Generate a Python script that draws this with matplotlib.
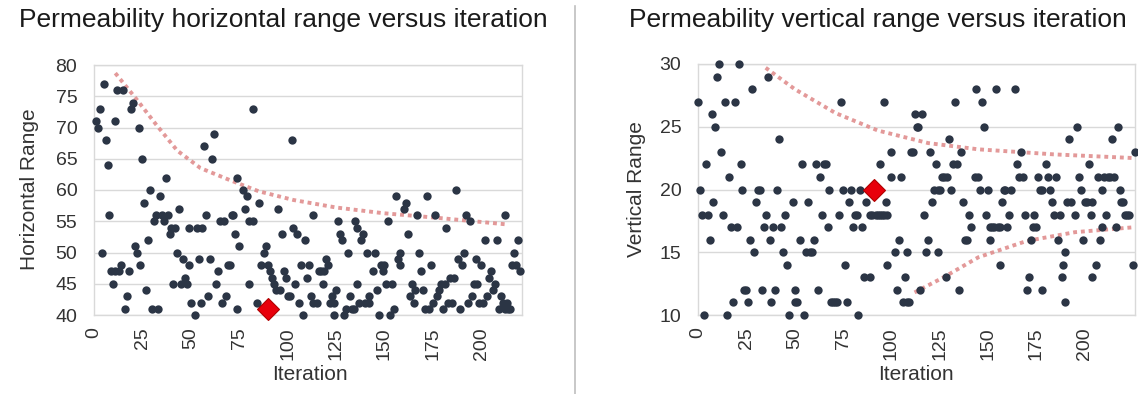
import matplotlib
matplotlib.use("Agg")
import matplotlib.pyplot as plt

plt.rcParams['font.family'] = ['Liberation Sans', 'DejaVu Sans']

# ---- left panel: horizontal range per iteration ----
h_iter = [1, 2, 3, 4, 5, 6, 7, 8, 9, 10,
          11, 11, 12, 13, 14, 15, 16, 17, 18, 19,
          20, 21, 22, 23, 24, 25, 26, 27, 28, 29,
          30, 31, 32, 33, 34, 35, 36, 37, 38, 39,
          40, 41, 42, 43, 44, 45, 46, 47, 48, 49,
          49, 50, 52, 53, 54, 55, 56, 57, 58, 59,
          60, 61, 62, 63, 64, 65, 66, 67, 68, 69,
          70, 71, 72, 73, 74, 74, 75, 77, 78, 79,
          80, 80, 82, 82, 84, 85, 86, 88, 89, 90,
          91, 92, 93, 94, 95, 96, 97, 98, 99, 100,
          101, 102, 103, 104, 105, 106, 107, 108, 109, 110,
          111, 112, 113, 113, 115, 116, 117, 118, 119, 120,
          121, 122, 123, 124, 124, 125, 126, 127, 128, 129,
          130, 131, 132, 133, 134, 135, 136, 136, 137, 138,
          139, 140, 141, 142, 142, 144, 145, 146, 147, 148,
          149, 150, 151, 152, 153, 154, 155, 156, 157, 158,
          158, 160, 161, 162, 163, 164, 165, 166, 167, 168,
          169, 170, 171, 172, 173, 174, 175, 176, 177, 178,
          179, 180, 181, 182, 183, 184, 185, 186, 187, 188,
          189, 190, 191, 192, 193, 194, 195, 196, 197, 198,
          199, 200, 201, 202, 203, 204, 205, 206, 207, 208,
          209, 210, 211, 212, 212, 213, 214, 215, 216, 217,
          218, 219, 220]
h_range = [71, 70, 73, 50, 77, 68, 64, 56, 47, 45,
           71, 47, 76, 47, 48, 76, 41, 43, 47, 73,
           74, 51, 50, 70, 48, 65, 58, 44, 52, 60,
           41, 55, 56, 41, 59, 56, 55, 62, 56, 53,
           54, 45, 54, 50, 57, 45, 49, 46, 45, 48,
           54, 42, 40, 54, 49, 42, 54, 67, 56, 43,
           49, 65, 69, 45, 47, 55, 42, 55, 43, 48,
           48, 56, 56, 53, 41, 62, 51, 60, 57, 59,
           45, 55, 73, 55, 42, 58, 48, 50, 51, 48,
           47, 46, 45, 44, 57, 44, 53, 47, 46, 43,
           43, 68, 54, 45, 53, 42, 48, 40, 52, 46,
           48, 43, 56, 42, 42, 47, 47, 45, 47, 49,
           48, 42, 43, 42, 40, 44, 55, 53, 52, 40,
           41, 50, 43, 41, 41, 55, 45, 54, 42, 52,
           53, 42, 50, 43, 42, 47, 50, 44, 40, 48,
           47, 48, 45, 55, 40, 45, 41, 59, 49, 50,
           48, 57, 58, 53, 43, 45, 42, 44, 56, 50,
           47, 44, 41, 59, 41, 48, 42, 56, 43, 44,
           45, 41, 45, 54, 42, 46, 42, 46, 60, 49,
           41, 48, 50, 56, 42, 55, 43, 45, 49, 45,
           42, 48, 42, 52, 43, 46, 47, 44, 45, 52,
           41, 43, 42, 41, 56, 42, 41, 41, 48, 50,
           48, 52, 47]
h_best = (90, 41)
# upper envelope trend
h_trend_x = [11, 22, 32, 43, 55, 70, 85, 103, 125, 149, 179, 213]
h_trend_y = [78.7, 74.5, 70.5, 66.3, 63.5, 61.6, 59.8, 58.4, 57.2, 56.3, 55.5, 54.5]

# ---- right panel: vertical range per iteration ----
v_iter = [0, 1, 2, 3, 4, 5, 6, 7, 8, 9,
          10, 11, 12, 13, 14, 15, 16, 17, 18, 19,
          20, 21, 22, 23, 24, 25, 26, 27, 28, 29,
          30, 31, 32, 33, 34, 35, 36, 37, 38, 39,
          40, 41, 42, 43, 44, 45, 46, 47, 49, 50,
          50, 51, 53, 54, 55, 56, 57, 58, 59, 60,
          61, 62, 63, 64, 65, 66, 67, 68, 69, 70,
          71, 72, 73, 74, 75, 76, 77, 78, 79, 80,
          81, 82, 83, 84, 85, 86, 87, 89, 89, 90,
          92, 93, 94, 94, 95, 96, 96, 97, 98, 98,
          100, 100, 102, 103, 104, 105, 106, 107, 108, 108,
          109, 110, 111, 112, 113, 114, 115, 116, 117, 118,
          119, 120, 121, 122, 123, 124, 124, 125, 126, 127,
          128, 129, 130, 131, 132, 133, 134, 135, 136, 137,
          138, 139, 140, 141, 143, 144, 145, 146, 147, 148,
          149, 150, 151, 151, 152, 153, 154, 155, 156, 156,
          157, 158, 159, 160, 161, 162, 164, 165, 166, 167,
          168, 169, 170, 171, 172, 173, 174, 175, 176, 177,
          178, 178, 180, 181, 182, 183, 184, 185, 186, 187,
          188, 189, 190, 190, 191, 192, 193, 195, 196, 197,
          198, 199, 200, 201, 202, 203, 204, 204, 206, 207,
          208, 209, 209, 210, 211, 212, 213, 214, 215, 216,
          217, 218, 219, 220, 221, 222, 223, 225, 226]
v_range = [27, 20, 18, 10, 22, 18, 16, 26, 19, 25,
           29, 30, 23, 18, 27, 10, 21, 17, 11, 27,
           17, 30, 22, 20, 12, 12, 11, 16, 28, 15,
           19, 20, 20, 12, 17, 18, 29, 16, 11, 17,
           12, 20, 24, 17, 15, 18, 14, 10, 19, 12,
           11, 11, 16, 22, 10, 15, 19, 15, 15, 16,
           22, 12, 21, 18, 22, 22, 17, 20, 11, 11,
           11, 11, 18, 27, 20, 14, 11, 19, 20, 17,
           18, 18, 10, 20, 17, 13, 19, 13, 18, 18,
           18, 18, 18, 22, 18, 18, 27, 19, 18, 14,
           23, 21, 15, 12, 16, 21, 11, 13, 11, 15,
           11, 23, 23, 26, 25, 25, 12, 26, 18, 15,
           16, 23, 19, 20, 22, 20, 15, 20, 21, 21,
           13, 21, 24, 20, 22, 27, 22, 12, 23, 19,
           16, 16, 18, 17, 21, 28, 21, 20, 27, 25,
           18, 20, 17, 16, 17, 17, 28, 17, 17, 14,
           19, 20, 20, 17, 18, 20, 28, 22, 21, 23,
           21, 18, 12, 13, 16, 17, 18, 17, 21, 20,
           20, 12, 22, 21, 20, 19, 18, 21, 16, 18,
           13, 14, 11, 15, 19, 24, 19, 18, 25, 21,
           20, 16, 19, 19, 22, 18, 19, 13, 14, 21,
           16, 20, 17, 21, 18, 21, 21, 24, 21, 17,
           25, 20, 19, 19, 18, 18, 18, 14, 23]
v_best = (91, 20)
v_upper_x = [35, 50, 71, 93, 119, 145, 184, 226]
v_upper_y = [29.7, 28.0, 26.1, 24.7, 23.7, 23.2, 22.8, 22.5]
v_lower_x = [112, 127, 145, 170, 195, 226]
v_lower_y = [11.8, 13.0, 14.6, 15.9, 16.6, 17.0]

DOT = '#2b3545'
GRID = '#d9d9d9'
TREND = '#e08e8e'
TXT = '#333333'

fig = plt.figure(figsize=(11.38, 3.94), dpi=100)


def style_axes(ax, xmax, ylo, yhi):
    ax.set_xlim(0, xmax)
    ax.set_ylim(ylo, yhi)
    ax.set_yticks(range(ylo, yhi + 1, 5))
    ax.set_xticks(range(0, 201, 25))
    ax.grid(axis='y', color=GRID, lw=1.0)
    ax.set_axisbelow(True)
    for s in ax.spines.values():
        s.set_color(GRID)
        s.set_linewidth(1.0)
    ax.tick_params(length=0, labelsize=14, colors=TXT)
    ax.tick_params(axis='y', pad=12)
    ax.tick_params(axis='x', pad=9)
    for lab in ax.get_xticklabels():
        lab.set_rotation(90)
        lab.set_va('top')


ax1 = fig.add_axes([94 / 1138, 1 - 315 / 394, 428 / 1138, 250 / 394])
style_axes(ax1, 221, 40, 80)
ax1.plot(h_trend_x, h_trend_y, color=TREND, lw=2.8, ls=(0, (1, 1)), alpha=0.9, zorder=2)
ax1.scatter(h_iter, h_range, s=36, color=DOT, zorder=3, clip_on=False, linewidths=0)
ax1.plot(*h_best, marker='D', ms=11, color='#e8000b', mec='#b00000', mew=0.8,
         zorder=4, clip_on=False)

ax2 = fig.add_axes([698 / 1138, 1 - 315 / 394, 437 / 1138, 251 / 394])
style_axes(ax2, 226, 10, 30)
ax2.plot(v_upper_x, v_upper_y, color=TREND, lw=2.8, ls=(0, (1, 1)), alpha=0.9, zorder=2)
ax2.plot(v_lower_x, v_lower_y, color=TREND, lw=2.8, ls=(0, (1, 1)), alpha=0.9, zorder=2)
ax2.scatter(v_iter, v_range, s=36, color=DOT, zorder=3, clip_on=False, linewidths=0)
ax2.plot(*v_best, marker='D', ms=11, color='#e8000b', mec='#b00000', mew=0.8,
         zorder=4, clip_on=False)

# titles and axis labels
fig.text(283 / 1138, 1 - 20 / 394, 'Permeability horizontal range versus iteration',
         ha='center', va='center', fontsize=19, color='#1a1a1a')
fig.text(878 / 1138, 1 - 20 / 394, 'Permeability vertical range versus iteration',
         ha='center', va='center', fontsize=19, color='#1a1a1a')
fig.text(30 / 1138, 1 - 189 / 394, 'Horizontal Range', rotation=90,
         ha='center', va='center', fontsize=15, color=TXT)
fig.text(636 / 1138, 1 - 189 / 394, 'Vertical Range', rotation=90,
         ha='center', va='center', fontsize=15, color=TXT)
fig.text(310 / 1138, 1 - 374 / 394, 'Iteration', ha='center', va='center',
         fontsize=15, color=TXT)
fig.text(916 / 1138, 1 - 374 / 394, 'Iteration', ha='center', va='center',
         fontsize=15, color=TXT)

# divider between the two charts
fig.add_artist(plt.Line2D([575 / 1138, 575 / 1138], [0, 1 - 6 / 394],
                          color='#bfbfbf', lw=1.2))

fig.savefig('out.png', dpi=100, facecolor='white')
